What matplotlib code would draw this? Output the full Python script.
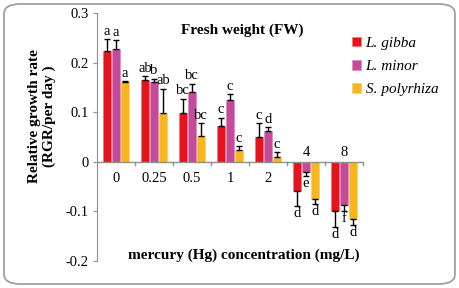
import matplotlib
matplotlib.use("Agg")
import matplotlib.pyplot as plt
from matplotlib.patches import FancyBboxPatch
import numpy as np

categories = ["0", "0.25", "0.5", "1", "2", "4", "8"]
series = ["L. gibba", "L. minor", "S. polyrhiza"]
gibba = [0.224, 0.164, 0.099, 0.073, 0.051, -0.058, -0.099]
gibba_err = [0.023, 0.009, 0.028, 0.016, 0.027, 0.032, 0.033]
minor = [0.227, 0.160, 0.141, 0.125, 0.063, -0.021, -0.087]
minor_err = [0.018, 0.007, 0.016, 0.011, 0.007, 0.007, 0.012]
spol = [0.160, 0.098, 0.053, 0.024, 0.009, -0.074, -0.115]
spol_err = [0.002, 0.049, 0.025, 0.007, 0.010, 0.012, 0.012]
gibba_sig = ["a", "ab", "bc", "c", "c", "d", "d"]
minor_sig = ["a", "b", "bc", "c", "d", "e", "f"]
spol_sig = ["a", "ab", "bc", "c", "c", "d", "d"]
colors = ["#E8121C", "#C24C9A", "#F6B61C"]
edges = ["#F27A80", "#E08CC4", "#F9D070"]

plt.rcParams['font.family'] = ['Liberation Serif', 'DejaVu Serif']

fig = plt.figure(figsize=(4.59, 2.88), dpi=100)
border = FancyBboxPatch((4/459, 4/288), 451/459, 280/288,
                        boxstyle="round,pad=0,rounding_size=0.035",
                        transform=fig.transFigure, fill=False,
                        edgecolor="#A0A0A0", linewidth=1.3)
fig.patches.append(border)

ax = fig.add_axes([97/459, 27/288, 266/459, 248/288])
x = np.arange(len(categories))
w = 0.21
off = 0.24
data = [(gibba, gibba_err, gibba_sig), (minor, minor_err, minor_sig), (spol, spol_err, spol_sig)]
for k, (vals, errs, sig) in enumerate(data):
    pos = x + (k - 1) * off
    ax.bar(pos, vals, width=w, color=colors[k], edgecolor=edges[k], linewidth=0.6,
           label=series[k], zorder=2)
    for p, v, e, s in zip(pos, vals, errs, sig):
        if v >= 0:
            ax.errorbar(p, v, yerr=[[0], [e]], fmt='none', ecolor='black',
                        elinewidth=1, capsize=2.5, capthick=1, zorder=3)
            ax.text(p, v + e + 0.003, s, ha='center', va='bottom', fontsize=10.5)
        else:
            ax.errorbar(p, v, yerr=[[e], [0]], fmt='none', ecolor='black',
                        elinewidth=1, capsize=2.5, capthick=1, zorder=3)
            ax.text(p, v - e - 0.002, s, ha='center', va='top', fontsize=10.5)

for i, c in enumerate(categories):
    if gibba[i] >= 0:
        ax.text(x[i], -0.021, c, ha='center', va='top', fontsize=10.5)
    else:
        ax.text(x[i], 0.006, c, ha='center', va='bottom', fontsize=10.5)

ax.set_xlim(-0.5, len(categories) - 0.5)
ax.set_ylim(-0.2, 0.3)
ax.set_yticks([-0.2, -0.1, 0, 0.1, 0.2, 0.3])
ax.set_yticklabels(["-0.2", "-0.1", "0", "0.1", "0.2", "0.3"], fontsize=10.5)
ax.tick_params(axis='y', length=3, color='#909090', pad=3)
ax.set_xticks([])
for s in ['top', 'right', 'bottom']:
    ax.spines[s].set_visible(False)
ax.spines['left'].set_color('#909090')
ax.axhline(0, color='#909090', linewidth=1, zorder=4)
for b in np.arange(0.5, len(categories), 1.0):
    ax.plot([b, b], [0, -0.007], color='#909090', linewidth=1, zorder=4, clip_on=False)
ax.patch.set_alpha(0)

ax.text(3.33, 0.266, "Fresh weight (FW)", ha='center', va='center', fontsize=11, fontweight='bold')
ax.text(3.37, -0.189, "mercury (Hg) concentration (mg/L)", ha='center', va='center',
        fontsize=11, fontweight='bold')
fig.text(42/459, (288 - 116)/288, "Relative growth rate\n(RGR/per day )", rotation=90,
         ha='center', va='center', fontsize=11, fontweight='bold', linespacing=1.1)

leg = ax.legend(loc='upper left', bbox_to_anchor=(241/266, 1 - 10/248), frameon=False,
                prop={'style': 'italic', 'size': 11}, handlelength=0.6, handleheight=0.6,
                handletextpad=0.3, labelspacing=0.65)

fig.savefig("out.png", dpi=100)
